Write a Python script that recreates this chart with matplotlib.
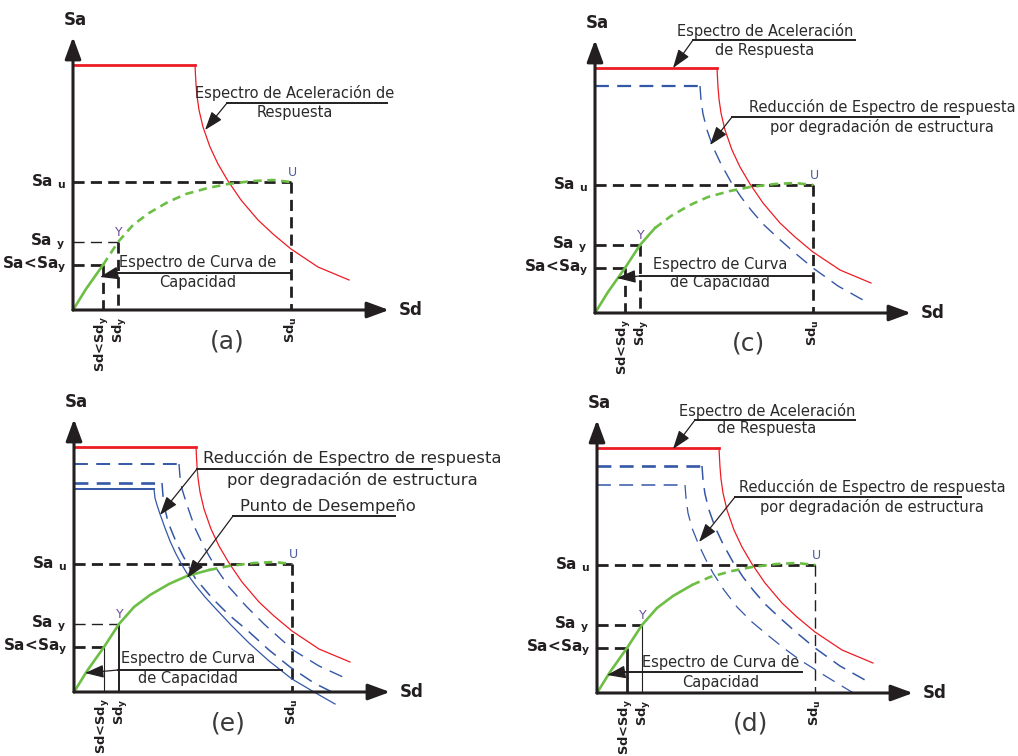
import matplotlib.pyplot as plt

plt.rcParams["font.family"] = ["DejaVu Sans"]
plt.rcParams["mathtext.default"] = "regular"
plt.rcParams["lines.scale_dashes"] = False

ARQUIVO_GRAFICO = "out.png"
W, H = 1018, 756

ROJO = "#ed1c24"
AZUL = "#3457a6"
VERDE = "#6dbe45"
NEGRO = "#231f20"

# puntos notables del esquema (unidades arbitrarias)
SD_MENOR, SD_Y, SD_U = 30, 45, 218
SA_MENOR, SA_Y, SA_U = 45, 68, 128

# curva de capacidad
CAP_SD = [0, 13, 30, 45, 60, 76, 95, 113, 135, 155, 180, 200, 218]
CAP_SA = [0, 21, 45, 68, 85, 97, 108, 116, 122, 126, 129, 130, 128]

# espectro de aceleracion de respuesta
ESP_SD = [0, 122, 122.5, 123, 124, 126, 130, 137, 145, 155, 168, 185, 200, 218, 245, 276]
ESP_SA = [245, 245, 235, 226, 214, 200, 183, 163, 146, 129, 110, 90, 76, 61, 43, 30]

# espectros reducidos (c) y (d)
RED1_SD = [0, 105, 106, 108, 112, 118, 126, 136, 146, 156, 168, 183, 200, 218, 243, 268]
RED1_SA = [227, 227, 213, 199, 183, 166, 149, 131, 116, 103, 89, 75, 60, 45, 27, 13]
RED2_SD = [0, 88, 89, 91, 95, 101, 108, 116, 127, 140, 155, 173, 188, 203, 230, 263]
RED2_SA = [208, 208, 195, 180, 165, 150, 135, 120, 103, 86, 71, 56, 44, 33, 16, -4]

# espectros reducidos (e)
E1_SD = [0, 105, 106, 108, 113, 121, 130, 142, 155, 172, 190, 219, 245, 269]
E1_SA = [228, 228, 215, 203, 187, 164, 145, 124, 105, 86, 68, 42, 26, 15]
E2_SD = [0, 88, 89, 91, 94, 98, 103, 108, 121, 138, 155, 173, 195, 216, 240, 264]
E2_SA = [209, 209, 196, 183, 170, 160, 148, 138, 114, 94, 77, 62, 42, 25, 9, -3]
E3_SD = [0, 80, 81, 83, 86, 91, 96, 102, 108, 114, 122, 131, 142, 157, 175, 195, 218, 240, 261]
E3_SA = [203, 203, 194, 187, 178, 164, 151, 138, 127, 117, 106, 95, 83, 67, 49, 31, 13, 0, -12]

TXT_ACEL = "Espectro de Aceleración"
TXT_RED = ("Reducción de Espectro de respuesta", "por degradación de estructura")

ROJO_ESP = (ESP_SD, ESP_SA, ROJO, 2.0, 0.9, None)

PANELES = [
    dict(letra="(a)", origen=(73, 310), corte=2,
         espectros=[ROJO_ESP],
         guias={"sa_y": ("--", 1.0)},
         notas=[((TXT_ACEL + " de", "Respuesta"), 222, (217, 198), 10.5, (154, 314, 207), (132, 180)),
                (("Espectro de Curva de", "Capacidad"), 125, (47, 27), 10.5, (45, 218, 37), (27, 33))]),
    dict(letra="(c)", origen=(595, 313), corte=4,
         espectros=[ROJO_ESP, (RED1_SD, RED1_SA, AZUL, 1.6, 1.0, (10, 6))],
         guias={},
         notas=[((TXT_ACEL, "de Respuesta"), 170, (282, 263), 10.5, (98, 260, 273), (78, 245)),
                (TXT_RED, 287, (206, 186), 10.5, (137, 375, 196), (115, 168)),
                (("Espectro de Curva", "de Capacidad"), 125, (48, 30), 10.5, (45, 218, 37), (22, 35))]),
    dict(letra="(e)", origen=(74, 692), corte=8,
         espectros=[ROJO_ESP,
                    (E1_SD, E1_SA, AZUL, 1.4, 1.0, (10, 6)),
                    (E2_SD, E2_SA, AZUL, 1.9, 1.1, (10, 6)),
                    (E3_SD, E3_SA, AZUL, 1.4, 0.9, None)],
         guias={"sa_y": ("--", 1.0), "sd_menor": ("-", 0.8), "sd_y": ("-", 1.4)},
         notas=[(TXT_RED, 278, (234, 212), 11.8, (123, 358, 223), (86, 177)),
                (("Punto de Desempeño",), 254, (186,), 11.8, (159, 321, 176), (113, 114)),
                (("Espectro de Curva", "de Capacidad"), 114, (33, 14), 10.5, (44, 208, 22), (11, 19))]),
    dict(letra="(d)", origen=(597, 693), corte=6,
         espectros=[ROJO_ESP,
                    (RED1_SD, RED1_SA, AZUL, 1.9, 1.1, (10, 6)),
                    (RED2_SD, RED2_SA, AZUL, 1.1, 0.9, (10, 6))],
         guias={"sd_u": ("--", 1.0), "sd_y": ("-", 0.8), "sd_menor": ("-", 2.0)},
         notas=[((TXT_ACEL, "de Respuesta"), 170, (282, 264), 10.5, (98, 258, 273), (76, 244)),
                (TXT_RED, 275, (206, 186), 10.5, (138, 375, 196), (102, 151)),
                (("Espectro de Curva de", "Capacidad"), 124, (31, 11), 10.5, (28, 205, 21), (10, 18))]),
]


def linea_guia(ax, xs, ys, estilo):
    ls, lw = estilo
    kw = dict(color=NEGRO, lw=lw, solid_capstyle="butt")
    if ls == "--":
        kw["dashes"] = (8, 4.5)
    ax.plot(xs, ys, **kw)


def dibujar_panel(ax, p):
    ax.set_xlim(-75, 365)
    ax.set_ylim(-60, 305)
    ax.axis("off")

    estilo = {"sa_u": ("--", 2.0), "sd_u": ("--", 2.0), "sa_y": ("--", 2.0),
              "sd_y": ("--", 2.0), "sa_menor": ("--", 2.0), "sd_menor": ("--", 2.0)}
    estilo.update(p["guias"])
    linea_guia(ax, [0, SD_U], [SA_U, SA_U], estilo["sa_u"])
    linea_guia(ax, [SD_U, SD_U], [SA_U, 0], estilo["sd_u"])
    linea_guia(ax, [0, SD_Y], [SA_Y, SA_Y], estilo["sa_y"])
    linea_guia(ax, [SD_Y, SD_Y], [SA_Y, 0], estilo["sd_y"])
    linea_guia(ax, [0, SD_MENOR], [SA_MENOR, SA_MENOR], estilo["sa_menor"])
    linea_guia(ax, [SD_MENOR, SD_MENOR], [SA_MENOR, 0], estilo["sd_menor"])

    for sd, sa, color, lw_meseta, lw_curva, dashes in p["espectros"]:
        kw = dict(color=color)
        if dashes:
            kw["dashes"] = dashes
        ax.plot(sd[:2], sa[:2], lw=lw_meseta, **kw)
        ax.plot(sd[1:], sa[1:], lw=lw_curva, **kw)

    k = p["corte"]
    ax.plot(CAP_SD[:k + 1], CAP_SA[:k + 1], color=VERDE, lw=1.9)
    ax.plot(CAP_SD[k:], CAP_SA[k:], color=VERDE, lw=1.9, dashes=(6, 4))

    flecha_eje = dict(arrowstyle="-|>,head_length=0.95,head_width=0.35", mutation_scale=14,
                      lw=2.2, color=NEGRO, shrinkA=0, shrinkB=0)
    ax.annotate("", xy=(316, 0), xytext=(0, 0), arrowprops=flecha_eje)
    ax.annotate("", xy=(0, 273), xytext=(0, 0), arrowprops=flecha_eje)
    ax.text(2, 290, "Sa", ha="center", va="center", fontsize=12, fontweight="bold", color=NEGRO)
    ax.text(338, 0, "Sd", ha="center", va="center", fontsize=12, fontweight="bold", color=NEGRO)

    for y, etiqueta in [(SA_U, "Sa $_u$"), (SA_Y, "Sa $_y$"), (SA_MENOR, "Sa<Sa$_y$")]:
        ax.text(-7, y, etiqueta, ha="right", va="center", fontsize=11, fontweight="bold", color=NEGRO)
    for x, etiqueta in [(SD_MENOR - 1, "Sd<Sd$_y$"), (SD_Y + 2, "Sd$_y$"), (SD_U, "Sd$_u$")]:
        ax.text(x, -6, etiqueta, ha="center", va="top", rotation=90, fontsize=9.4,
                fontweight="bold", color=NEGRO)

    ax.text(SD_U + 1, SA_U + 3, "U", ha="center", va="bottom", fontsize=9, color="#4a5b9a")
    ax.text(SD_Y + 1, SA_Y + 3, "Y", ha="center", va="bottom", fontsize=9, color="#6b4c9a")
    ax.text(154, -31, p["letra"], ha="center", va="center", fontsize=18, color="#3a3a3a")

    flecha_nota = dict(arrowstyle="-|>,head_length=0.95,head_width=0.33", mutation_scale=12,
                       lw=0.9, color=NEGRO, shrinkA=0, shrinkB=0)
    for lineas, cx, ys, fs, (x0, x1, yl), punta in p["notas"]:
        for texto, y in zip(lineas, ys):
            ax.text(cx, y, texto, ha="center", va="center", fontsize=fs, color="#2a2a2a")
        ax.plot([x0, x1], [yl, yl], color=NEGRO, lw=1.4)
        ax.annotate("", xy=punta, xytext=(x0, yl), arrowprops=flecha_nota)


def gerar_figura():
    fig = plt.figure(figsize=(W / 100, H / 100), dpi=100)
    for p in PANELES:
        ox, oy = p["origen"]
        ax = fig.add_axes([(ox - 75) / W, (H - (oy + 60)) / H, 440 / W, 365 / H])
        dibujar_panel(ax, p)
    fig.savefig(ARQUIVO_GRAFICO, dpi=100)


if __name__ == "__main__":
    gerar_figura()
